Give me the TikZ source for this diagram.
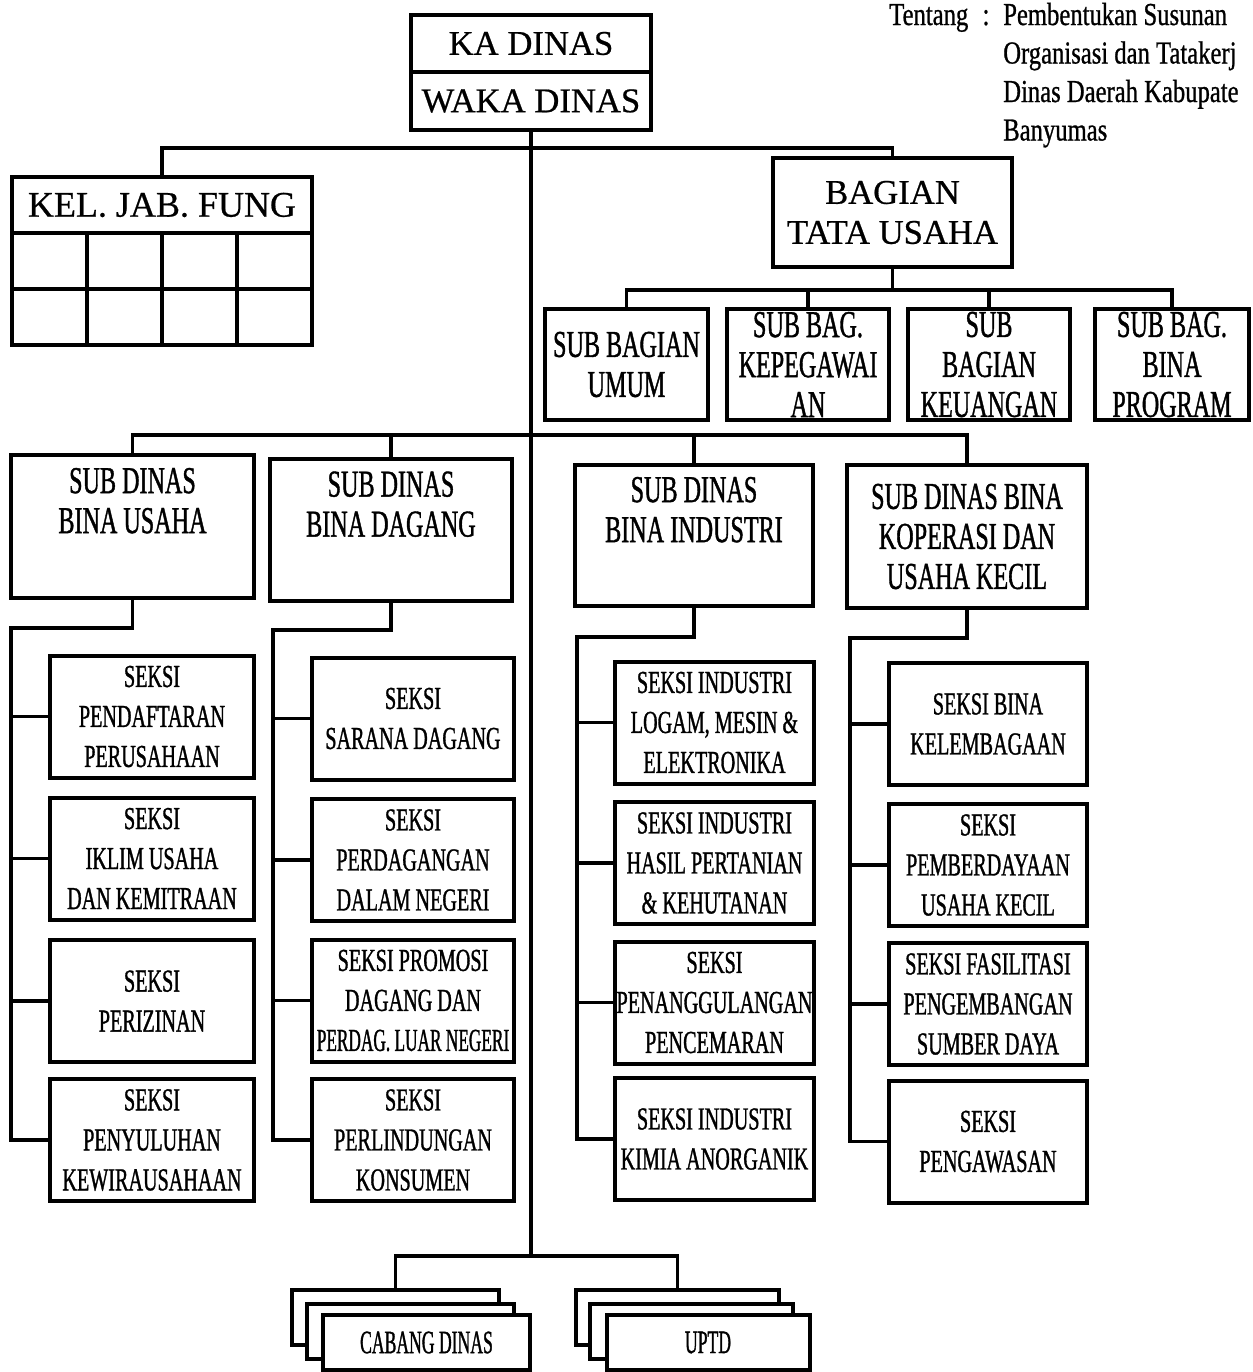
\documentclass[tikz,border=0pt]{standalone}
\usepackage{fontspec}
\setmainfont[FakeBold=0.6]{Liberation Serif}
\newfontfamily\condfont[FakeStretch=0.63,FakeBold=1]{Liberation Serif}
\newfontfamily\subfont[FakeStretch=0.635,FakeBold=1]{Liberation Serif}
\newfontfamily\tightfont[FakeStretch=0.54,FakeBold=1]{Liberation Serif}
\newfontfamily\headfont[FakeStretch=0.77,FakeBold=0.8]{Liberation Serif}

\begin{document}
\begin{tikzpicture}[x=0.75pt,y=0.75pt,yscale=-1,xscale=1,
	box/.style={draw, line width=3pt, fill=white, inner sep=0pt, align=center},
	sub/.style={box, font=\subfont\fontsize{28.5}{30}\selectfont},
	seksi/.style={box, minimum height=91.5pt, font=\condfont\fontsize{24}{30}\selectfont},
	stack/.style={box, minimum height=41.25pt, font=\tightfont\fontsize{24.5}{30}\selectfont},
	hdr/.style={anchor=base west, inner sep=0pt, font=\headfont\fontsize{24}{29}\selectfont},
	link/.style={line width=2.8pt}]
	%set diagram to the size of the scan
	\useasboundingbox (0,0) rectangle (1253,1372);
	
	% Text Node
	\node [hdr] (tentang) at (889,25) {Tentang};
	% Text Node
	\node [hdr, anchor=base] (titik) at (986,25) {:};
	% Text Node
	\node [hdr] (judul1) at (1003,25) {Pembentukan Susunan};
	% Text Node
	\node [hdr] (judul2) at (1003,63.5) {Organisasi dan Tatakerj};
	% Text Node
	\node [hdr] (judul3) at (1003,102) {Dinas Daerah Kabupate};
	% Text Node
	\node [hdr] (judul4) at (1003,140.5) {Banyumas};
	
	%Shape: Rectangle
	\node [box, minimum width=180pt, minimum height=42.75pt, font=\fontsize{26}{30}\selectfont] (kadinas) at (531,43.5) {KA DINAS};
	%Shape: Rectangle
	\node [box, minimum width=180pt, minimum height=43.5pt, font=\fontsize{26}{30}\selectfont] (wakadinas) at (531,101) {WAKA DINAS};
	
	%Shape: Rectangle
	\node [box, minimum width=225pt, minimum height=42pt, font=\fontsize{27}{30}\selectfont] (keljab) at (162,205) {KEL. JAB. FUNG};
	\node [box, minimum width=56.25pt, minimum height=42pt] (fung1) at (49.5,261) {};
	\node [box, minimum width=56.25pt, minimum height=42pt] (fung2) at (124.5,261) {};
	\node [box, minimum width=56.25pt, minimum height=42pt] (fung3) at (199.5,261) {};
	\node [box, minimum width=56.25pt, minimum height=42pt] (fung4) at (274.5,261) {};
	\node [box, minimum width=56.25pt, minimum height=42pt] (fung5) at (49.5,317) {};
	\node [box, minimum width=56.25pt, minimum height=42pt] (fung6) at (124.5,317) {};
	\node [box, minimum width=56.25pt, minimum height=42pt] (fung7) at (199.5,317) {};
	\node [box, minimum width=56.25pt, minimum height=42pt] (fung8) at (274.5,317) {};
	
	%Shape: Rectangle
	\node [box, minimum width=179.25pt, minimum height=81.75pt, font=\fontsize{26}{30}\selectfont] (bagian) at (892.5,212.5) {BAGIAN\\TATA USAHA};
	
	%Shape: Rectangle
	\node [sub, minimum width=122.25pt, minimum height=83.25pt] (umum) at (626.5,364.5) {SUB BAGIAN\\UMUM};
	\node [sub, minimum width=121.5pt, minimum height=83.25pt] (kepeg) at (808,364.5) {SUB BAG.\\KEPEGAWAI\\AN};
	\node [sub, minimum width=121.5pt, minimum height=83.25pt] (keu) at (989,364.5) {SUB\\BAGIAN\\KEUANGAN};
	\node [sub, minimum width=115.5pt, minimum height=83.25pt] (program) at (1172,364.5) {SUB BAG.\\BINA\\PROGRAM};
	
	%Shape: Rectangle
	\node [sub, minimum width=182.25pt, minimum height=107.25pt] (usaha) at (132.5,526.5) {SUB DINAS\\BINA USAHA\\\strut};
	\node [sub, minimum width=181.5pt, minimum height=106.5pt] (dagang) at (391,530) {SUB DINAS\\BINA DAGANG\\\strut};
	\node [sub, minimum width=178.5pt, minimum height=105.75pt] (industri) at (694,535.5) {SUB DINAS\\BINA INDUSTRI\\\strut};
	\node [sub, minimum width=180pt, minimum height=107.25pt] (koperasi) at (967,536.5) {SUB DINAS BINA\\KOPERASI DAN\\USAHA KECIL};
	
	%Shape: Rectangle
	\node [seksi, minimum width=153pt] (usaha1) at (152,716.5) {SEKSI\\PENDAFTARAN\\PERUSAHAAN};
	\node [seksi, minimum width=153pt] (usaha2) at (152,858.5) {SEKSI\\IKLIM USAHA\\DAN KEMITRAAN};
	\node [seksi, minimum width=153pt] (usaha3) at (152,1001) {SEKSI\\PERIZINAN};
	\node [seksi, minimum width=153pt] (usaha4) at (152,1140) {SEKSI\\PENYULUHAN\\KEWIRAUSAHAAN};
	
	%Shape: Rectangle
	\node [seksi, minimum width=151.5pt] (dagang1) at (413,718.5) {SEKSI\\SARANA DAGANG};
	\node [seksi, minimum width=151.5pt] (dagang2) at (413,860) {SEKSI\\PERDAGANGAN\\DALAM NEGERI};
	\node [seksi, minimum width=151.5pt] (dagang3) at (413,1000.5) {SEKSI PROMOSI\\DAGANG DAN\\{\tightfont PERDAG. LUAR NEGERI}};
	\node [seksi, minimum width=151.5pt] (dagang4) at (413,1140) {SEKSI\\PERLINDUNGAN\\KONSUMEN};
	
	%Shape: Rectangle
	\node [seksi, minimum width=149.25pt] (industri1) at (714.5,722.5) {SEKSI INDUSTRI\\LOGAM, MESIN \&\\ELEKTRONIKA};
	\node [seksi, minimum width=149.25pt] (industri2) at (714.5,863) {SEKSI INDUSTRI\\HASIL PERTANIAN\\\& KEHUTANAN};
	\node [seksi, minimum width=149.25pt] (industri3) at (714.5,1002.5) {SEKSI\\PENANGGULANGAN\\PENCEMARAN};
	\node [seksi, minimum width=149.25pt] (industri4) at (714.5,1139) {SEKSI INDUSTRI\\KIMIA ANORGANIK};
	
	%Shape: Rectangle
	\node [seksi, minimum width=148.5pt] (koperasi1) at (988,724) {SEKSI BINA\\KELEMBAGAAN};
	\node [seksi, minimum width=148.5pt] (koperasi2) at (988,865) {SEKSI\\PEMBERDAYAAN\\USAHA KECIL};
	\node [seksi, minimum width=148.5pt] (koperasi3) at (988,1004) {SEKSI FASILITASI\\PENGEMBANGAN\\SUMBER DAYA};
	\node [seksi, minimum width=148.5pt] (koperasi4) at (988,1141.5) {SEKSI\\PENGAWASAN};
	
	%Shape: Rectangle
	\node [stack, minimum width=155.25pt] (cabang1) at (395.5,1317.5) {};
	\node [stack, minimum width=155.25pt] (cabang2) at (410.5,1331.5) {};
	\node [stack, minimum width=155.25pt] (cabang3) at (426.5,1342.5) {CABANG DINAS};
	\node [stack, minimum width=152.25pt] (uptd1) at (677.5,1317.5) {};
	\node [stack, minimum width=152.25pt] (uptd2) at (691.5,1331.5) {};
	\node [stack, minimum width=152.25pt] (uptd3) at (708,1342.5) {UPTD};
	
	%Straight Lines
	\coordinate (busa) at (wakadinas.south |- 0,148);
	\coordinate (busb) at (bagian.south |- 0,290);
	\coordinate (busc) at (wakadinas.south |- 0,435);
	\coordinate (busd) at (wakadinas.south |- 0,1256);
	\draw [link] (wakadinas.south) -- (busd);
	\draw [link] (keljab.north) |- (busa) -| (bagian.north);
	
	%Straight Lines
	\draw [link] (bagian.south) -- (busb);
	\draw [link] (umum.north) |- (busb) -| (program.north);
	\draw [link] (kepeg.north) -- (kepeg.north |- busb);
	\draw [link] (keu.north) -- (keu.north |- busb);
	
	%Straight Lines
	\draw [link] (usaha.north) |- (busc) -| (koperasi.north);
	\draw [link] (dagang.north) -- (dagang.north |- busc);
	\draw [link] (industri.north) -- (industri.north |- busc);
	
	%Straight Lines
	\coordinate (elbu) at (11,628);
	\draw [link] (usaha.south) |- (elbu) |- (usaha4.west);
	\draw [link] (elbu |- usaha1.west) -- (usaha1.west);
	\draw [link] (elbu |- usaha2.west) -- (usaha2.west);
	\draw [link] (elbu |- usaha3.west) -- (usaha3.west);
	
	%Straight Lines
	\coordinate (elbd) at (273,630);
	\draw [link] (dagang.south) |- (elbd) |- (dagang4.west);
	\draw [link] (elbd |- dagang1.west) -- (dagang1.west);
	\draw [link] (elbd |- dagang2.west) -- (dagang2.west);
	\draw [link] (elbd |- dagang3.west) -- (dagang3.west);
	
	%Straight Lines
	\coordinate (elbi) at (577,637);
	\draw [link] (industri.south) |- (elbi) |- (industri4.west);
	\draw [link] (elbi |- industri1.west) -- (industri1.west);
	\draw [link] (elbi |- industri2.west) -- (industri2.west);
	\draw [link] (elbi |- industri3.west) -- (industri3.west);
	
	%Straight Lines
	\coordinate (elbk) at (850,638);
	\draw [link] (koperasi.south) |- (elbk) |- (koperasi4.west);
	\draw [link] (elbk |- koperasi1.west) -- (koperasi1.west);
	\draw [link] (elbk |- koperasi2.west) -- (koperasi2.west);
	\draw [link] (elbk |- koperasi3.west) -- (koperasi3.west);
	
	%Straight Lines
	\draw [link] (cabang1.north) |- (busd) -| (uptd1.north);
\end{tikzpicture}
\end{document}
